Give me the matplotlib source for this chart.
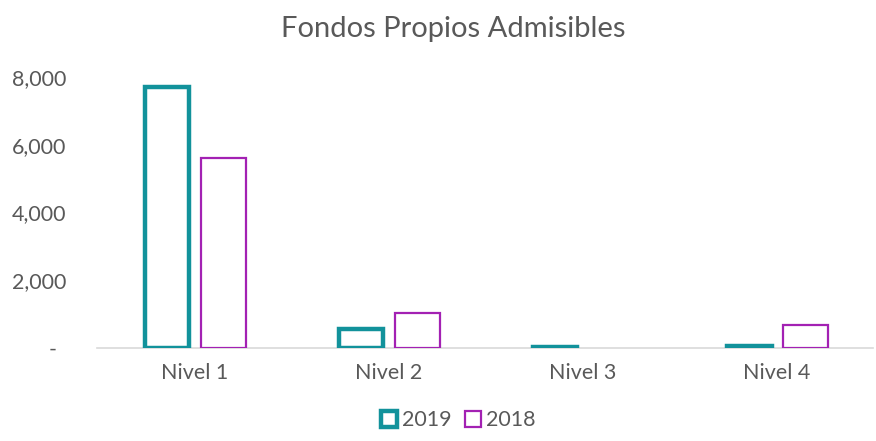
import matplotlib
matplotlib.use("Agg")
import matplotlib.pyplot as plt
import numpy as np
import matplotlib.transforms as mtrans
from matplotlib.ticker import FuncFormatter

categories = ["Nivel 1", "Nivel 2", "Nivel 3", "Nivel 4"]
series_2019 = [7700, 560, 25, 60]
series_2018 = [5600, 1040, np.nan, 680]
yticks = [0, 2000, 4000, 6000, 8000]

plt.rcParams['font.family'] = ['Lato', 'DejaVu Sans']
teal = "#12929B"
purple = "#A321B3"
txt = "#595959"

fig = plt.figure(figsize=(8.76, 4.41), dpi=100)
ax = fig.add_axes([0.111, 0.211, 0.886, 0.614])
x = np.arange(len(categories))
w = 0.23
ax.bar(x - 0.14, series_2019, w, facecolor="white", edgecolor=teal, linewidth=3.2, label="2019")
ax.bar(x + 0.15, series_2018, w, facecolor="white", edgecolor=purple, linewidth=1.6, label="2018")

ax.set_xlim(-0.5, 3.5)
ax.set_ylim(0, 8000)
ax.set_yticks(yticks)
ax.yaxis.set_major_formatter(FuncFormatter(lambda v, p: "-" if v == 0 else f"{int(v):,}"))
ax.set_xticks(x)
ax.set_xticklabels(categories)
for s in ["top", "right", "left"]:
    ax.spines[s].set_visible(False)
ax.spines["bottom"].set_color("#D9D9D9")
ax.spines["bottom"].set_linewidth(1.2)
ax.spines["bottom"].set_zorder(0)
ax.tick_params(axis="both", length=0, colors=txt, labelsize=15.5)
ax.tick_params(axis="y", pad=22)
ax.tick_params(axis="x", pad=11)
fig.canvas.draw()
for lab in ax.get_yticklabels():
    lab.set_horizontalalignment("right")
zero_lab = ax.get_yticklabels()[0]
zero_lab.set_transform(zero_lab.get_transform() + mtrans.ScaledTranslation(-7/72, 0, fig.dpi_scale_trans))

fig.text(0.517, 0.935, "Fondos Propios Admisibles", ha="center", va="center", fontsize=21, color=txt)

leg = fig.legend(loc="lower center", bbox_to_anchor=(0.523, -0.02), ncol=2, frameon=False,
                 fontsize=15.5, handlelength=0.75, handleheight=0.75, handletextpad=0.25,
                 columnspacing=0.6, labelcolor=txt)
plt.savefig("out.png", dpi=100)
